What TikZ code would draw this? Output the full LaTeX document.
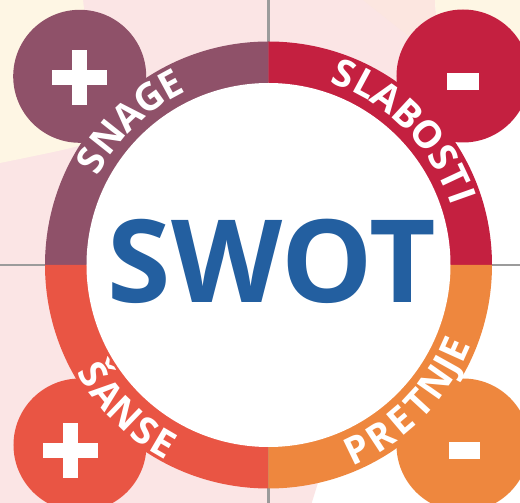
\documentclass[tikz,border=0pt]{standalone}
\usepackage{fontspec}
\setmainfont{Open Sans}
\definecolor{snage}{HTML}{8F5169}
\definecolor{slabosti}{HTML}{C42040}
\definecolor{sanse}{HTML}{E95544}
\definecolor{pretnje}{HTML}{EE873E}
\definecolor{swotblue}{HTML}{235FA0}
\definecolor{bgpink}{HTML}{FBE5E5}
\definecolor{bgcream}{HTML}{FEF6E4}
\definecolor{bgpeach}{HTML}{FCE6E0}
\definecolor{axisgray}{HTML}{9B9B9B}
\begin{document}
\begin{tikzpicture}[x=1pt,y=1pt,
  axisline/.style={draw=axisgray,line width=2.5pt},
  badge/.style={circle,minimum size=133pt,inner sep=0pt},
  bar/.style={fill=white,inner sep=0pt},
  toplbl/.style={text=white,inner sep=0pt,anchor=base,
    font=\bfseries\fontsize{38}{38}\selectfont},
  botlbl/.style={toplbl},
  title/.style={text=swotblue,inner sep=0pt,
    font=\bfseries\fontsize{115}{115}\selectfont}]
\useasboundingbox (-268.5,-238) rectangle (251.5,265);

% backdrop
\fill[white] (-268.5,-238) rectangle (251.5,265);
\fill[bgpink] (-268.5,-238) -- (43.2,-238) -- (55,-200) -- (0,0)
  -- (150,150) -- (150,265) -- (-268.5,265) -- cycle;
\fill[bgcream] (-268.5,265) -- (-185.5,265) -- (-178.5,205) -- (-168.5,125)
  .. controls (-200,116) .. (-268.5,102) -- cycle;
\fill[bgpeach] (94.5,265) -- (166.5,265) -- (169.5,220) -- (162.5,211)
  -- (128.5,238) -- cycle;
\fill[bgcream] (166.5,265) -- (251.5,265) -- (251.5,190) -- (200,180)
  -- (169.5,220) -- cycle;

% axes
\draw[axisline] (-268.5,0) -- (251.5,0);
\draw[axisline] (0,-238) -- (0,265);

% corner badges
\node[badge,fill=snage] (bS) at (-188.8,188.7) {};
\node[badge,fill=slabosti] (bW) at (194.5,189) {};
\node[badge,fill=sanse] (bO) at (-188.5,-180) {};
\node[badge,fill=pretnje] (bT) at (194.5,-180) {};

% ring quadrants
\fill[snage] (0,0) -- (180:223.5) arc[start angle=180,end angle=90,radius=223.5] -- cycle;
\fill[slabosti] (0,0) -- (90:223.5) arc[start angle=90,end angle=0,radius=223.5] -- cycle;
\fill[sanse] (0,0) -- (180:223.5) arc[start angle=180,end angle=270,radius=223.5] -- cycle;
\fill[pretnje] (0,0) -- (270:223.5) arc[start angle=270,end angle=360,radius=223.5] -- cycle;
\node[circle,fill=white,minimum size=364pt,inner sep=0pt] (core) at (0,0) {};

\node[title] (swot) at (3.2,3.3) {SWOT};

% plus / minus marks
\node[bar,minimum width=55pt,minimum height=15pt] (pS1) at (-189.3,187.5) {};
\node[bar,minimum width=15pt,minimum height=55pt] (pS2) at (-189.3,187.5) {};
\node[bar,minimum width=55pt,minimum height=15pt] (pO1) at (-198,-185.5) {};
\node[bar,minimum width=15pt,minimum height=55pt] (pO2) at (-198,-185.5) {};
\node[bar,minimum width=32pt,minimum height=17pt] (mW) at (194,183.7) {};
\node[bar,minimum width=31pt,minimum height=17pt] (mT) at (196,-185.3) {};

% labels along the ring
\foreach \a/\c [count=\i] in {149.4/S,141.5/N,133.4/A,125.6/G,118.4/E}
  \node[toplbl,rotate=\a-90] (snage\i) at (\a:192) {\c};
\foreach \a/\c [count=\i] in {68.3/S,61.7/L,54.8/A,47.2/B,39.2/O,31.6/S,25.2/T,19.6/I}
  \node[toplbl,rotate=\a-90] (slab\i) at (\a:192) {\c};
\foreach \a/\c [count=\i] in {211.8/Š,218.8/A,226.1/N,233.3/S,239.6/E}
  \node[botlbl,rotate=\a+90] (sanse\i) at (\a:220) {\c};
\foreach \a/\c [count=\i] in {295.9/P,303.3/R,310.4/E,317.3/T,324.9/N,330.9/J,335.7/E}
  \node[botlbl,rotate=\a+90] (pretnje\i) at (\a:218) {\c};
\end{tikzpicture}
\end{document}
